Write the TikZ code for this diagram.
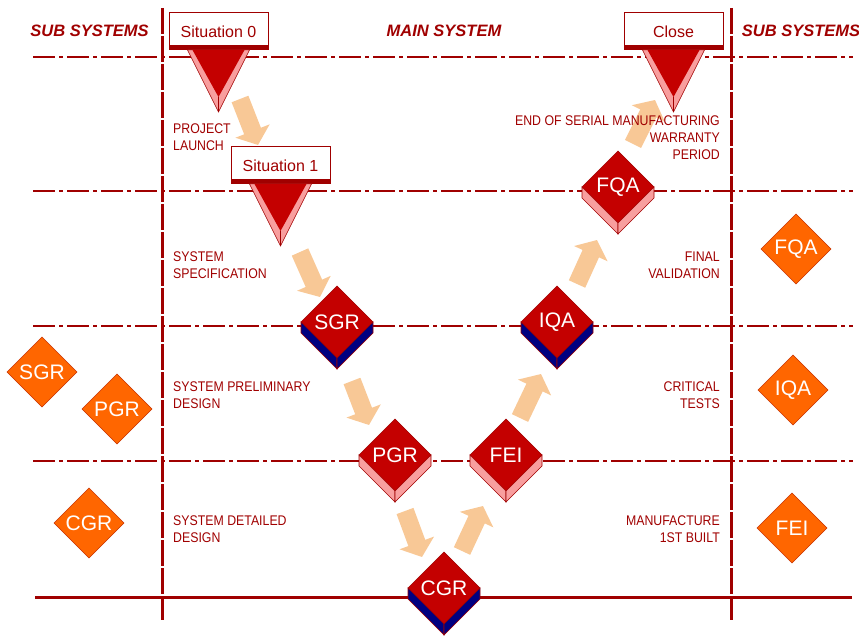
\documentclass[tikz,border=0pt]{standalone}
\usepackage{fontspec}
\setmainfont{Liberation Sans}
\newfontfamily\labelfont[FakeStretch=0.88]{Liberation Sans}
\usetikzlibrary{shapes.geometric,arrows.meta,calc}
\definecolor{linered}{RGB}{160,0,0}
\definecolor{facered}{RGB}{196,0,0}
\definecolor{sidepink}{RGB}{248,158,158}
\definecolor{sidenavy}{RGB}{0,0,128}
\definecolor{suborange}{RGB}{255,102,0}
\definecolor{subedge}{RGB}{200,50,0}
\definecolor{flowpeach}{RGB}{248,200,150}

% 3D review gate: name, position, side colour, label
\newcommand\gate[4]{%
  \node[gateface] (#1) at (#2) {#4};
  \filldraw[fill=#3,draw=linered,line width=0.6pt] (#1.west) -- (#1.south) -- ($(#1.south)+(0,11)$) -- ($(#1.west)+(0,11)$) -- cycle;
  \filldraw[fill=#3,draw=linered,line width=0.6pt] (#1.east) -- (#1.south) -- ($(#1.south)+(0,11)$) -- ($(#1.east)+(0,11)$) -- cycle;
}
% pointer below a situation box
\newcommand\sitpointer[1]{%
  \filldraw[fill=sidepink,draw=linered,line width=0.5pt] ($(#1.south)+(-31,0)$) -- ($(#1.south)+(31,0)$) -- ($(#1.south)+(0,62)$) -- cycle;
  \fill[facered] ($(#1.south)+(-26,0)$) -- ($(#1.south)+(26,0)$) -- ($(#1.south)+(0,47)$) -- cycle;
  \draw[linered,line width=0.5pt] ($(#1.south)+(0,47)$) -- ($(#1.south)+(0,62)$);
}

\begin{document}
\begin{tikzpicture}[x=1pt,y=-1pt,
  gridh/.style={linered,line width=2.2pt,dash pattern=on 22pt off 4pt on 4pt off 4pt},
  gridv/.style={linered,line width=3pt,dash pattern=on 26pt off 2pt},
  flow/.style={flowpeach,line width=18pt,-{Triangle[length=15pt,width=36pt]}},
  sitbox/.style={draw=linered,fill=white,line width=1pt,minimum width=99pt,minimum height=37pt,inner sep=0pt,outer sep=0pt,text=linered,font=\fontsize{16}{16}\selectfont},
  gateface/.style={diamond,aspect=1,minimum size=72pt,inner sep=0pt,outer sep=0pt,fill=facered,draw=linered,line width=0.6pt,text=white,font=\fontsize{21}{21}\selectfont},
  subgate/.style={diamond,aspect=1,minimum size=70pt,inner sep=0pt,outer sep=0pt,fill=suborange,draw=subedge,line width=0.6pt,text=white,font=\fontsize{21}{21}\selectfont},
  header/.style={text=linered,font=\fontsize{16.5}{16.5}\selectfont\bfseries\itshape},
  phase/.style={text=linered,inner sep=0pt,font=\labelfont\fontsize{14}{17}\selectfont}]
\useasboundingbox (0,0) rectangle (859,636);

% grid
\draw[gridv] (162,8) -- (162,620);
\draw[gridv] (731,8) -- (731,620);
\foreach \y in {57,191,326,461} \draw[gridh] (33,\y) -- (853,\y);
\draw[linered,line width=3pt] (35,597) -- (852,597);

% headers
\node[header] (hsubl) at (89.5,31) {SUB SYSTEMS};
\node[header] (hmain) at (444,31) {MAIN SYSTEM};
\node[header] (hsubr) at (801,31) {SUB SYSTEMS};

% flow arrows
\coordinate (f1a) at (240,99);  \coordinate (f1b) at (258,145);
\coordinate (f2a) at (300,252); \coordinate (f2b) at (320,297);
\coordinate (f3a) at (352,381); \coordinate (f3b) at (369,425);
\coordinate (f4a) at (405,511); \coordinate (f4b) at (422,557);
\coordinate (f5a) at (462,551); \coordinate (f5b) at (483,506);
\coordinate (f6a) at (520,418); \coordinate (f6b) at (541,374);
\coordinate (f7a) at (577,284); \coordinate (f7b) at (597,240);
\coordinate (f8a) at (633,144); \coordinate (f8b) at (655,100);
\foreach \i in {1,...,8} \draw[flow] (f\i a) -- (f\i b);

% situations
\node[sitbox] (sit0) at (218.5,31.5) {Situation 0};
\fill[linered] ($(sit0.south west)+(0,-5)$) rectangle (sit0.south east);
\sitpointer{sit0}
\node[sitbox] (sit1) at (280.5,165.5) {Situation 1};
\fill[linered] ($(sit1.south west)+(0,-5)$) rectangle (sit1.south east);
\sitpointer{sit1}
\node[sitbox] (close) at (673.5,31.5) {Close};
\fill[linered] ($(close.south west)+(0,-5)$) rectangle (close.south east);
\sitpointer{close}

% main system gates
\gate{sgr}{337,322}{sidenavy}{SGR}
\gate{pgr}{395,455}{sidepink}{PGR}
\gate{cgr}{444,588}{sidenavy}{CGR}
\gate{fei}{506,455}{sidepink}{FEI}
\gate{iqa}{557,322}{sidenavy}{IQA}
\gate{fqa}{618,187}{sidepink}{FQA}

% sub system gates
\node[subgate] (subsgr) at (42,372) {SGR};
\node[subgate] (subpgr) at (117,409) {PGR};
\node[subgate] (subcgr) at (89,523) {CGR};
\node[subgate] (subfqa) at (796,249) {FQA};
\node[subgate] (subiqa) at (793,390) {IQA};
\node[subgate] (subfei) at (792,528) {FEI};

% phases
\node[phase,align=left,anchor=north west] (plaunch) at (173,124) {PROJECT\\LAUNCH};
\node[phase,align=left,anchor=north west] (pspec) at (173,252) {SYSTEM\\SPECIFICATION};
\node[phase,align=left,anchor=north west] (pprelim) at (173,382) {SYSTEM PRELIMINARY\\DESIGN};
\node[phase,align=left,anchor=north west] (pdetail) at (173,516) {SYSTEM DETAILED\\DESIGN};
\node[phase,align=right,anchor=north east] (pend) at (720,116) {END OF SERIAL MANUFACTURING\\WARRANTY\\PERIOD};
\node[phase,align=right,anchor=north east] (pfinal) at (720,252) {FINAL\\VALIDATION};
\node[phase,align=right,anchor=north east] (pcrit) at (720,382) {CRITICAL\\TESTS};
\node[phase,align=right,anchor=north east] (pmanuf) at (720,516) {MANUFACTURE\\1ST BUILT};
\end{tikzpicture}
\end{document}
